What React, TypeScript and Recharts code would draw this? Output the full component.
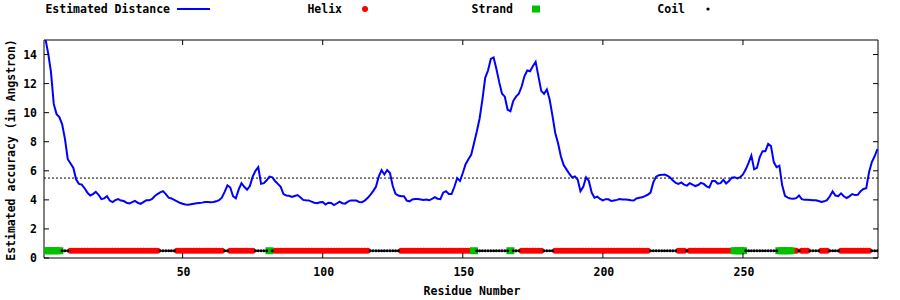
import React from 'react';
import {
  ComposedChart,
  Line,
  Scatter,
  XAxis,
  YAxis,
  ReferenceLine,
  ReferenceArea,
  Legend,
} from 'recharts';

// Estimated distance per residue (1..298)
const distance: number[] = [
  15.1, 14.1, 12.8, 10.6, 9.9, 9.7, 9.2, 8.2, 6.8, 6.5,
  6.2, 5.4, 5.1, 5.05, 4.8, 4.5, 4.3, 4.4, 4.55, 4.35,
  4.05, 4.1, 4.25, 3.95, 3.85, 3.98, 4.05, 3.95, 3.92, 3.8,
  3.76, 3.84, 3.93, 3.8, 3.72, 3.85, 3.97, 3.97, 4.05, 4.25,
  4.4, 4.52, 4.6, 4.4, 4.15, 4.1, 4.0, 3.9, 3.8, 3.73,
  3.68, 3.67, 3.7, 3.73, 3.76, 3.79, 3.81, 3.85, 3.85, 3.84,
  3.85, 3.9, 3.98, 4.15, 4.55, 5.0, 4.85, 4.25, 4.1, 4.7,
  5.15, 4.9, 4.7, 4.95, 5.6, 6.0, 6.25, 5.1, 5.15, 5.35,
  5.6, 5.55, 5.3, 5.1, 4.9, 4.4, 4.3, 4.28, 4.2, 4.27,
  4.33, 4.18, 4.0, 3.97, 3.96, 3.88, 3.8, 3.77, 3.84, 3.85,
  3.68, 3.8, 3.78, 3.64, 3.75, 3.88, 3.77, 3.74, 3.88, 3.96,
  3.95, 3.95, 3.86, 3.84, 3.95, 4.12, 4.35, 4.6, 4.9, 5.6,
  6.05, 5.75, 6.05, 5.85, 4.95, 4.42, 4.3, 4.25, 4.25, 3.95,
  3.9, 4.03, 4.06, 4.06, 4.03, 4.0, 4.03, 3.97, 4.06, 4.19,
  4.08, 4.05, 4.5, 4.6, 4.4, 4.4, 4.9, 5.5, 5.3, 5.85,
  6.45, 6.8, 7.1, 7.9, 8.7, 9.6, 10.9, 12.4, 12.9, 13.7,
  13.8, 13.0, 12.1, 11.3, 11.1, 10.2, 10.1, 10.8, 11.1, 11.3,
  11.8, 12.5, 12.9, 12.85, 13.2, 13.5, 12.5, 11.5, 11.3, 11.6,
  10.9, 9.8, 8.6, 7.9, 7.0, 6.4, 6.1, 5.8, 5.55, 5.62,
  5.4, 4.6, 4.9, 5.55, 5.3, 4.5, 4.15, 4.22, 4.06, 3.97,
  4.05, 4.04, 3.92, 3.96, 4.0, 4.06, 4.03, 4.03, 4.01, 3.97,
  3.96, 4.1, 4.14, 4.18, 4.26, 4.35, 4.5, 5.2, 5.6, 5.7,
  5.72, 5.75, 5.66, 5.54, 5.33, 5.17, 5.1, 5.2, 5.05, 4.98,
  5.15, 5.05, 4.95, 5.02, 5.17, 5.1, 4.93, 4.85, 5.3, 5.3,
  5.12, 5.15, 5.38, 5.13, 5.3, 5.53, 5.56, 5.48, 5.56, 5.75,
  6.1, 6.55, 7.05, 6.1, 6.2, 6.95, 7.35, 7.35, 7.85, 7.7,
  6.6, 6.25, 6.35, 5.0, 4.28, 4.15, 4.1, 4.08, 4.12, 4.3,
  4.05, 4.0, 4.0, 3.99, 3.97, 3.97, 3.92, 3.85, 3.9, 3.98,
  4.25, 4.58, 4.3, 4.25, 4.45, 4.25, 4.13, 4.24, 4.4, 4.33,
  4.35, 4.6, 4.75, 4.8, 5.9, 6.6, 7.0, 7.5,
];

// Secondary structure segments: [type, firstResidue, lastResidue]
const ssSegments: [string, number, number][] = [
  ['E', 1, 6], ['C', 7, 9], ['H', 10, 41], ['C', 42, 47], ['H', 48, 64],
  ['C', 65, 66], ['H', 67, 75], ['C', 76, 80], ['E', 81, 81], ['C', 82, 82],
  ['H', 83, 116], ['C', 117, 127], ['H', 128, 153], ['E', 154, 154],
  ['C', 155, 166], ['E', 167, 167], ['C', 168, 170], ['H', 171, 178],
  ['C', 179, 182], ['H', 183, 216], ['C', 217, 226], ['H', 227, 229],
  ['C', 230, 230], ['H', 231, 246], ['E', 247, 250], ['C', 251, 262],
  ['E', 263, 267], ['H', 268, 269], ['C', 270, 270], ['H', 271, 273],
  ['C', 274, 277], ['H', 278, 280], ['C', 281, 284], ['H', 285, 295],
  ['C', 296, 298],
];

const ssLevel = 0.5;
const cutoff = 5.5;
const yTicks = [0, 2, 4, 6, 8, 10, 12, 14];
const xTicks = [50, 100, 150, 200, 250];
const legendNames = ['Estimated Distance', 'Helix', 'Strand', 'Coil'];

const distData = distance.map((d, i) => ({ r: i + 1, d }));
const ssPoints = (t: string) => {
  const out: { r: number; y: number }[] = [];
  ssSegments.forEach(([type, a, b]) => {
    if (type !== t) return;
    for (let r = a; r <= b; r++) out.push({ r, y: ssLevel });
  });
  return out;
};
const helixData = ssPoints('H');
const strandData = ssPoints('E');
const coilData = ssPoints('C');

const FONT = '"DejaVu Sans Mono", monospace';
const PLOT = { left: 44, right: 878, top: 40, bottom: 258 };
const BLUE = '#0000ff';
const RED = '#ff0000';
const GREEN = '#00c000';

const XTick = (props: any) => {
  const { x, payload } = props;
  const cx = payload && typeof payload.coordinate === 'number' ? payload.coordinate : x;
  return (
    <g>
      <line x1={cx} y1={PLOT.bottom} x2={cx} y2={PLOT.bottom - 5} stroke="#000" />
      <line x1={cx} y1={PLOT.top} x2={cx} y2={PLOT.top + 5} stroke="#000" />
      <text x={cx + 1} y={276} textAnchor="middle" fontFamily={FONT} fontWeight="bold" fontSize={11.5} fill="#000">
        {payload.value}
      </text>
    </g>
  );
};

const YTick = (props: any) => {
  const { y, payload } = props;
  const cy = payload && typeof payload.coordinate === 'number' ? payload.coordinate : y;
  return (
    <g>
      <line x1={PLOT.left} y1={cy} x2={PLOT.left + 5} y2={cy} stroke="#000" />
      <line x1={PLOT.right} y1={cy} x2={PLOT.right - 5} y2={cy} stroke="#000" />
      <text x={37} y={cy + 4} textAnchor="end" fontFamily={FONT} fontWeight="bold" fontSize={11.5} fill="#000">
        {payload.value}
      </text>
    </g>
  );
};

const HelixShape = (p: any) => <circle cx={p.cx} cy={p.cy} r={3} fill={RED} />;
const StrandShape = (p: any) => <rect x={p.cx - 4} y={p.cy - 3.5} width={8} height={7} fill={GREEN} />;
const CoilShape = (p: any) => <circle cx={p.cx} cy={p.cy} r={1.6} fill="#000" />;

const LegendContent = () => {
  const ty = 13;
  const textProps = { fontFamily: FONT, fontWeight: 'bold' as const, fontSize: 11.5, fill: '#000', textAnchor: 'end' as const };
  return (
    <svg width={900} height={20} style={{ display: 'block' }}>
      <text x={170} y={ty} {...textProps}>{legendNames[0]}</text>
      <line x1={177} y1={9} x2={210} y2={9} stroke={BLUE} strokeWidth={2} />
      <text x={342} y={ty} {...textProps}>{legendNames[1]}</text>
      <circle cx={365} cy={9} r={3} fill={RED} />
      <text x={513} y={ty} {...textProps}>{legendNames[2]}</text>
      <rect x={532} y={5.5} width={8} height={7} fill={GREEN} />
      <text x={685} y={ty} {...textProps}>{legendNames[3]}</text>
      <circle cx={708} cy={9} r={1.6} fill="#000" />
    </svg>
  );
};

export default function App() {
  return (
    <div style={{ position: 'absolute', left: 0, top: 0, width: 900, height: 300, background: '#fff' }}>
      <ComposedChart
        width={900}
        height={300}
        margin={{ top: 40, right: 22, bottom: 12, left: 14 }}
      >
        <XAxis
          type="number"
          dataKey="r"
          domain={[0.52, 298.2]}
          ticks={xTicks}
          allowDataOverflow
          axisLine={false}
          tickLine={false}
          tick={<XTick />}
          height={30}
          interval={0}
        />
        <YAxis
          type="number"
          domain={[0, 15]}
          ticks={yTicks}
          allowDataOverflow
          axisLine={false}
          tickLine={false}
          tick={<YTick />}
          width={30}
          interval={0}
        />
        <Legend
          layout="vertical"
          align="center"
          verticalAlign="middle"
          wrapperStyle={{ position: 'absolute', top: 0, left: 0, width: 900, height: 20 }}
          content={<LegendContent />}
        />
        <ReferenceLine y={cutoff} stroke="#000" strokeDasharray="2 2" strokeWidth={1} />
        <Scatter data={helixData} dataKey="y" shape={<HelixShape />} isAnimationActive={false} />
        <Scatter data={strandData} dataKey="y" shape={<StrandShape />} isAnimationActive={false} />
        <Scatter data={coilData} dataKey="y" shape={<CoilShape />} isAnimationActive={false} />
        <Line
          data={distData}
          dataKey="d"
          type="linear"
          stroke={BLUE}
          strokeWidth={2}
          dot={false}
          activeDot={false}
          isAnimationActive={false}
        />
        <ReferenceArea
          x1={0.52}
          x2={298.2}
          y1={0}
          y2={15}
          fill="none"
          fillOpacity={0}
          stroke="#000"
          strokeWidth={1}
          ifOverflow="visible"
        />
      </ComposedChart>
      <svg width={900} height={300} style={{ position: 'absolute', left: 0, top: 0, pointerEvents: 'none' }}>
        <text
          x={11}
          y={150}
          transform="rotate(-90 11 150)"
          textAnchor="middle"
          dominantBaseline="central"
          fontFamily={FONT}
          fontWeight="bold"
          fontSize={11.5}
          fill="#000"
        >
          Estimated accuracy (in Angstron)
        </text>
        <text
          x={472}
          y={291}
          textAnchor="middle"
          dominantBaseline="central"
          fontFamily={FONT}
          fontWeight="bold"
          fontSize={11.5}
          fill="#000"
        >
          Residue Number
        </text>
      </svg>
    </div>
  );
}
